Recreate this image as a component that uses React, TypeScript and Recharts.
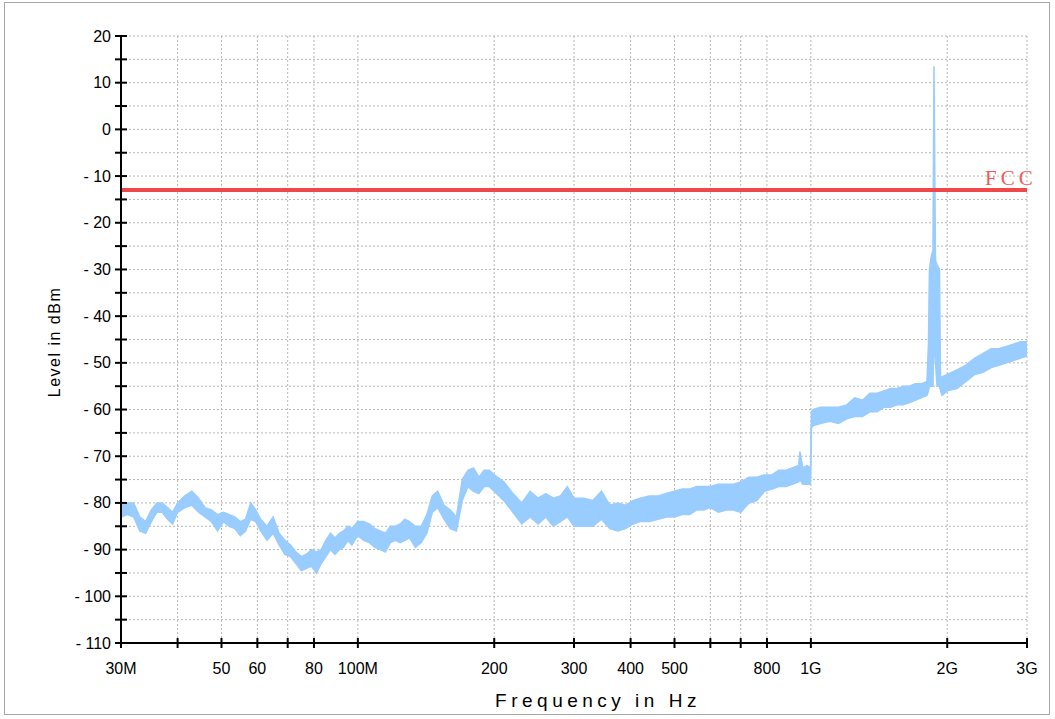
import { Area, CartesianGrid, ComposedChart, ReferenceLine, XAxis, YAxis } from "recharts";

const freqMHz = [
  30, 31, 32, 33, 34, 35, 36, 37, 38, 39,
  40, 41.5, 43, 44.5, 46, 47.5, 49, 50.5, 52, 53.5,
  55, 56.5, 58, 59.5, 61, 63, 65, 67, 69, 71,
  73, 75, 77, 79, 81, 83, 85, 87, 89, 91,
  93, 95, 97, 100, 103, 106, 109, 112, 115, 118,
  121, 124, 127, 130, 134, 138, 142, 146, 150, 155,
  160, 165, 170, 175, 180, 185, 190, 195, 200, 210,
  220, 230, 240, 250, 260, 270, 280, 290, 300, 315,
  330, 345, 360, 375, 390, 405, 420, 440, 460, 480,
  500, 520, 540, 560, 580, 600, 625, 650, 675, 700,
  730, 760, 790, 820, 850, 880, 910, 940, 946, 960,
  980, 998, 1003, 1010, 1050, 1100, 1150, 1200, 1250, 1300,
  1350, 1400, 1450, 1500, 1550, 1600, 1650, 1700, 1750, 1804,
  1818, 1827, 1846, 1860, 1870, 1884, 1899, 1923, 1933, 1948,
  2000, 2100, 2200, 2300, 2400, 2500, 2600, 2700, 2800, 2900,
  3000,
];

const levelLow = [
  -83, -82.5, -83, -86, -86.5, -84, -82, -82, -83.5, -84.5,
  -82, -81, -80.5, -82, -83, -84, -86, -84, -85, -85.5,
  -87, -86, -83.5, -84, -86, -88, -86.5, -89, -91, -91.5,
  -93, -94.5, -94, -93.5, -95, -93, -91.5, -90, -91, -90,
  -89.5, -88, -89, -87, -88, -88.5, -89.5, -90, -90.5, -88.5,
  -88, -88.5, -88, -87.5, -89.5, -88.5, -86.5, -82, -81, -83.5,
  -85.5, -86, -79.5, -76.5, -77.5, -78, -76.5, -76.5, -77.5, -79.5,
  -82, -84.5, -83, -84.5, -83, -85, -84, -83, -85, -85,
  -85, -83.5, -85.5, -86, -85.5, -84.5, -84, -84, -83.5, -83,
  -83, -82.5, -82.5, -81.5, -81.5, -81, -82, -81.5, -81.5, -82,
  -80, -79.5, -77.5, -77, -76.5, -76.5, -76, -75.5, -75, -76,
  -76, -76, -64, -63.5, -63, -62.5, -63, -62, -61.5, -61.5,
  -60.5, -60.5, -59.5, -59.5, -59, -59, -58.5, -58, -57.5, -57,
  -56, -55, -55, -55, -44, -50, -55, -55, -56, -57,
  -56, -55.5, -54, -52.5, -52, -51, -50.5, -50, -49.5, -49,
  -48.5,
];

const levelHigh = [
  -80.5, -80, -80, -83, -84, -81.5, -80, -80, -81, -82,
  -80, -78.5, -77.5, -79, -81, -81.5, -82.5, -82, -82.5, -83,
  -84, -83.5, -80, -81.5, -83.5, -85, -83, -86.5, -88, -89,
  -90.5, -91.5, -91, -90, -90.5, -90, -88, -86.5, -87.5, -86.5,
  -86, -85, -85.5, -84, -84, -84.5, -85.5, -86, -86.5, -85,
  -85, -84.5, -83.5, -84, -85, -85, -82.5, -78.5, -77.5, -80.5,
  -81.5, -83, -75, -73, -72.5, -74.5, -73, -73, -74, -75.5,
  -78, -80, -77.5, -79, -78, -79, -78.5, -76.5, -79, -79,
  -79.5, -77.5, -80.5, -80, -80.5, -79.5, -79, -78.5, -78.5, -78,
  -77.5, -77, -77, -76.5, -76.5, -76.5, -76, -76, -76, -75.5,
  -74.5, -74.5, -74, -74, -73, -73, -72.5, -72, -69, -72.5,
  -72, -72.5, -60.5, -60, -59.5, -59.5, -59.5, -59, -57.5, -58,
  -56.5, -56.5, -56, -55.5, -55.5, -55, -55, -54.5, -54.5, -54,
  -46, -30, -27, -26, 13.5, -28, -29, -30, -54, -53,
  -52.5, -51.5, -50.5, -49, -48, -47, -47, -46.5, -46, -45.5,
  -45.5,
];

const fccLimit = -13;

const xTicks = [30, 40, 50, 60, 70, 80, 100, 200, 300, 400, 500, 600, 700, 800, 1000, 2000, 3000];
const xTickLabels = ["30M", "", "50", "60", "", "80", "100M", "200", "300", "400", "500", "", "", "800", "1G", "2G", "3G"];

const yTicks = [
  -110, -105, -100, -95, -90, -85, -80, -75, -70, -65, -60, -55, -50, -45, -40, -35, -30, -25, -20, -15,
  -10, -5, 0, 5, 10, 15, 20,
];

const rows = freqMHz.map((f, i) => ({ f, range: [levelLow[i], levelHigh[i]] }));

const FONT = "'Liberation Sans', Arial, sans-serif";

function YTick({ x, y, payload }: any) {
  const v = payload.value as number;
  const label = v < 0 ? `- ${Math.abs(v)}` : `${v}`;
  return (
    <g>
      <line x1={x - 6} x2={x + 6} y1={y} y2={y} stroke="#000" strokeWidth={2} />
      {v % 10 === 0 && (
        <text x={x - 10} y={y} textAnchor="end" dominantBaseline="central" fontSize={16} fill="#000" fontFamily={FONT}>
          {label}
        </text>
      )}
    </g>
  );
}

function XTick({ x, y, payload }: any) {
  const idx = xTicks.indexOf(payload.value);
  const label = idx >= 0 ? xTickLabels[idx] : "";
  return (
    <g>
      <line x1={x} x2={x} y1={y - 5} y2={y + 5} stroke="#000" strokeWidth={2} />
      {label && (
        <text x={x} y={y + 25} textAnchor="middle" dominantBaseline="central" fontSize={16} fill="#000" fontFamily={FONT}>
          {label}
        </text>
      )}
    </g>
  );
}

export default function App() {
  return (
    <div style={{ position: "absolute", left: 0, top: 0, width: 1055, height: 719, background: "#fff" }}>
      <div
        style={{
          position: "absolute",
          left: 4,
          top: 2,
          width: 1046,
          height: 713,
          border: "1px solid #a8a8a8",
          boxSizing: "border-box",
        }}
      />
      <div style={{ position: "absolute", left: 0, top: 0 }}>
        <ComposedChart width={1055} height={719} data={rows} margin={{ top: 36, right: 28, bottom: 46, left: 0 }}>
          <CartesianGrid stroke="#b8b8b8" strokeDasharray="2 2" />
          <XAxis
            dataKey="f"
            type="number"
            scale="log"
            domain={[30, 3000]}
            allowDataOverflow
            ticks={xTicks}
            interval={0}
            height={30}
            tickSize={0}
            tickMargin={0}
            tickLine={false}
            tick={<XTick />}
            axisLine={{ stroke: "#000", strokeWidth: 2 }}
          />
          <YAxis
            type="number"
            domain={[-110, 20]}
            allowDataOverflow
            ticks={yTicks}
            interval={0}
            width={121}
            tickSize={0}
            tickMargin={0}
            tickLine={false}
            tick={<YTick />}
            axisLine={{ stroke: "#000", strokeWidth: 2 }}
          />
          <Area
            type="linear"
            dataKey="range"
            stroke="#99ccff"
            strokeWidth={1.5}
            fill="#99ccff"
            fillOpacity={1}
            isAnimationActive={false}
            dot={false}
            activeDot={false}
          />
          <ReferenceLine
            y={fccLimit}
            stroke="#f04848"
            strokeWidth={4}
            label={({ viewBox }: any) => (
              <text
                x={viewBox.x + viewBox.width - 42}
                y={viewBox.y - 5}
                fill="#f05a5a"
                fontSize={21}
                letterSpacing={4}
                fontFamily="'Liberation Serif', 'DejaVu Serif', serif"
              >
                FCC
              </text>
            )}
          />
        </ComposedChart>
      </div>
      <div
        style={{
          position: "absolute",
          left: 598,
          top: 690,
          transform: "translateX(-50%)",
          fontFamily: FONT,
          fontSize: 19,
          letterSpacing: 4.5,
          whiteSpace: "nowrap",
          color: "#000",
        }}
      >
        Frequency in Hz
      </div>
      <div
        style={{
          position: "absolute",
          left: 55,
          top: 342,
          transform: "translate(-50%, -50%) rotate(-90deg)",
          fontFamily: FONT,
          fontSize: 16,
          letterSpacing: 1.5,
          whiteSpace: "nowrap",
          color: "#000",
        }}
      >
        Level in dBm
      </div>
    </div>
  );
}
